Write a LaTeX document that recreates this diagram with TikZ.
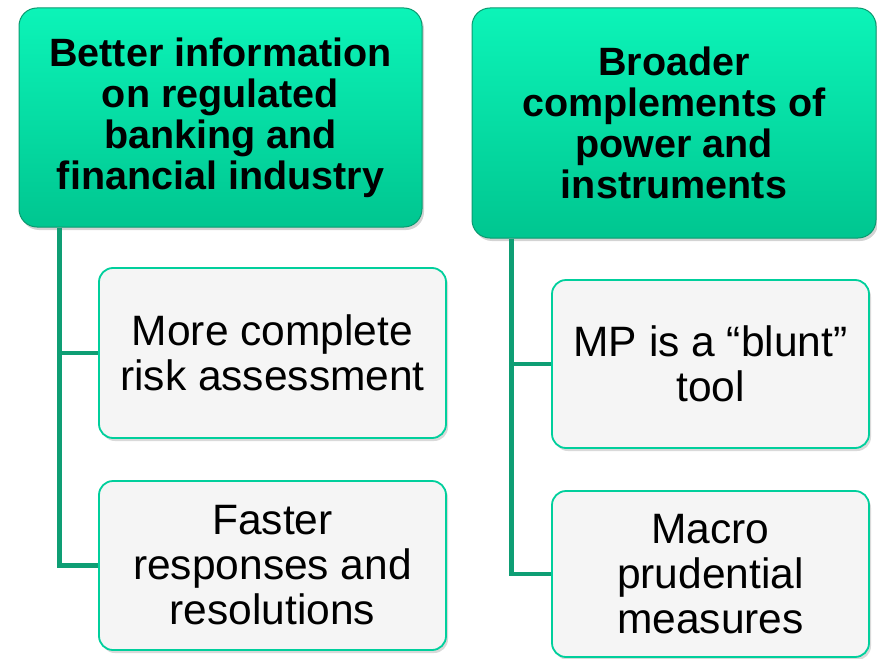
\documentclass[tikz,border=0pt]{standalone}
\usepackage{fontspec}
\setmainfont{Liberation Sans}
\usetikzlibrary{shadows,positioning}

\definecolor{headtop}{HTML}{0CF4B8}
\definecolor{headbot}{HTML}{00C690}
\definecolor{headline}{HTML}{0A9A70}
\definecolor{itemline}{HTML}{00CF9C}
\definecolor{itemfill}{HTML}{F5F5F5}
\definecolor{linkcol}{HTML}{0E9E74}

\tikzset{
  headbox/.style={rounded corners=18pt, top color=headtop, bottom color=headbot,
                  draw=headline, line width=1pt, align=center, inner sep=0pt,
                  drop shadow={opacity=.35, shadow xshift=2pt, shadow yshift=-3pt},
                  font=\fontsize{39.5}{41}\selectfont\bfseries},
  itembox/.style={rounded corners=14pt, fill=itemfill, draw=itemline,
                  line width=1.8pt, align=center, inner sep=0pt,
                  drop shadow={opacity=.3, shadow xshift=2pt, shadow yshift=-3pt},
                  font=\fontsize{42.5}{45}\selectfont},
  link/.style={draw=linkcol, line width=4.5pt}
}

\begin{document}
\begin{tikzpicture}[x=1pt,y=-1pt]
    \useasboundingbox (0,0) rectangle (877,658);
    % left column
    \node[headbox, minimum width=403pt, minimum height=219pt] (head1) at (220.5,117.5)
        {Better information\\on regulated\\banking and\\financial industry};
    \node[itembox, minimum width=347pt, minimum height=170pt] (item11) at (272.5,353)
        {More complete\\risk assessment};
    \node[itembox, minimum width=347pt, minimum height=169pt] (item12) at (272.5,565.5)
        {Faster\\responses and\\resolutions};
    % right column
    \node[headbox, minimum width=404pt, minimum height=230pt] (head2) at (674,123)
        {Broader\\complements of\\power and\\instruments};
    \node[itembox, minimum width=317pt, minimum height=168pt] (item21) at (710.5,364)
        {MP is a “blunt”\\tool};
    \node[itembox, minimum width=317pt, minimum height=166pt] (item22) at (710.5,574)
        {Macro\\prudential\\measures};
    % connectors
    \draw[link] ([xshift=41pt]head1.south west) |- (item12.west);
    \draw[link] ([xshift=41pt]head1.south west) |- (item11.west);
    \draw[link] ([xshift=40pt]head2.south west) |- (item22.west);
    \draw[link] ([xshift=40pt]head2.south west) |- (item21.west);
\end{tikzpicture}
\end{document}
